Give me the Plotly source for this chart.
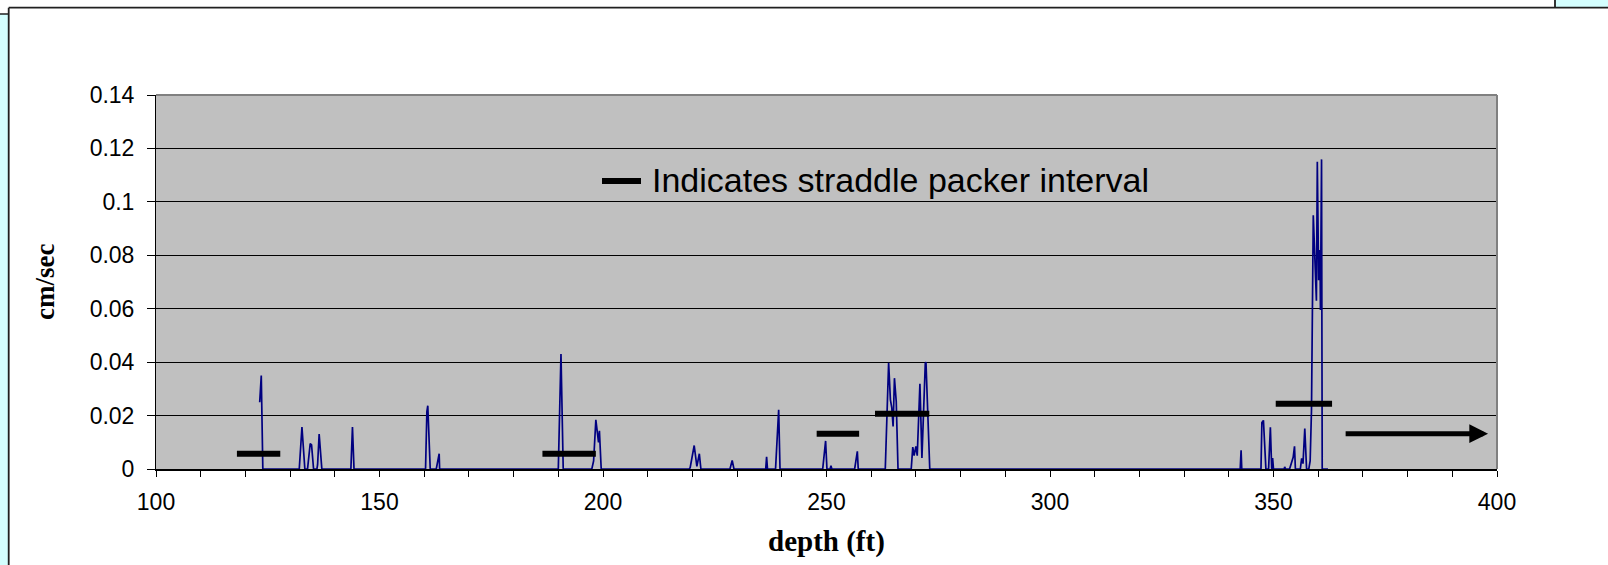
import plotly.graph_objects as go

# ---------------- data ----------------
depth_ft = [
    123.2, 123.55, 123.9,
    132.05, 132.65, 133.3, 133.9, 134.5, 134.8, 135.25, 136.0, 136.15, 136.5, 137.1,
    143.6, 143.95, 144.3,
    160.3, 160.6, 160.8, 161.35, 162.7, 163.35, 163.45,
    190.0, 190.6, 191.1,
    197.5, 197.9, 198.4, 199.0, 199.2, 199.6,
    219.3, 219.5, 220.4, 221.0, 221.55, 221.9,
    228.4, 228.9, 229.3,
    236.4, 236.6, 236.8,
    238.6, 239.3, 239.6,
    249.15, 249.8, 250.1, 250.8, 251.0, 251.2,
    256.3, 256.9, 257.1,
    263.15, 263.9, 264.3, 264.6, 264.9, 265.2, 265.6, 266.0,
    268.95, 269.3, 269.6, 270.0, 270.3, 270.9, 271.35, 272.1, 272.25, 273.1,
    342.55, 342.75, 342.9,
    347.2, 347.4, 347.75, 348.3, 348.9, 349.3, 349.6, 349.8, 350.0,
    352.4, 352.5, 352.7,
    353.6, 354.4, 354.7, 354.9,
    356.0, 356.3, 356.6, 357.0, 357.4,
    357.9, 358.2, 358.5, 358.9, 359.6, 359.8, 360.1, 360.4, 360.5, 360.75, 360.9,
    362.2,
]
velocity_cm_s = [
    0.025, 0.035, 0.0,
    0.0, 0.0157, 0.0, 0.0, 0.0095, 0.009, 0.0, 0.0, 0.0016, 0.0131, 0.0,
    0.0, 0.0157, 0.0,
    0.0, 0.0215, 0.0237, 0.0, 0.0, 0.0057, 0.0,
    0.0, 0.043, 0.0,
    0.0, 0.003, 0.0184, 0.0100, 0.0143, 0.0,
    0.0, 0.0005, 0.0088, 0.001, 0.0057, 0.0,
    0.0, 0.0032, 0.0,
    0.0, 0.0046, 0.0,
    0.0, 0.0222, 0.0,
    0.0, 0.0105, 0.0, 0.0, 0.0012, 0.0,
    0.0, 0.0066, 0.0,
    0.0, 0.0398, 0.0259, 0.023, 0.0159, 0.034, 0.0253, 0.0,
    0.0, 0.0082, 0.005, 0.0085, 0.005, 0.0319, 0.0041, 0.0396, 0.040, 0.0,
    0.0, 0.0070, 0.0,
    0.0, 0.0174, 0.0182, 0.0, 0.0, 0.0156, 0.0, 0.0041, 0.0,
    0.0, 0.0008, 0.0,
    0.0, 0.0044, 0.0085, 0.0,
    0.0, 0.004, 0.002, 0.0151, 0.0,
    0.0, 0.003, 0.022, 0.095, 0.063, 0.115, 0.0707, 0.082, 0.0595, 0.1159, 0.0,
    0.0,
]

# straddle packer intervals
packer_top_ft = [118.1, 186.45, 247.8, 260.85, 350.5]
packer_bottom_ft = [127.8, 198.4, 257.3, 273.0, 363.1]
packer_level = [0.0057, 0.0057, 0.0132, 0.0207, 0.0244]

# arrow (continues beyond)
arrow_start_ft = 365.8
arrow_end_ft = 398.0
arrow_level = 0.0132

legend_text = "Indicates straddle packer interval"
x_title = "depth (ft)"
y_title = "cm/sec"

x_tick_vals = [100, 150, 200, 250, 300, 350, 400]
x_tick_text = ["100", "150", "200", "250", "300", "350", "400"]
y_tick_vals = [0, 0.02, 0.04, 0.06, 0.08, 0.10, 0.12, 0.14]
y_tick_text = ["0", "0.02", "0.04", "0.06", "0.08", "0.1", "0.12", "0.14"]

# ---------------- layout geometry ----------------
W, H = 1608, 565
ML, MR, MT, MB = 156, 111, 95, 96
PW, PH = W - ML - MR, H - MT - MB


def px(xp):
    return (xp - ML) / PW


def py(yp):
    return (H - MB - yp) / PH


fig = go.Figure()

fig.add_trace(go.Scatter(
    x=depth_ft, y=velocity_cm_s, mode="lines",
    line=dict(color="#000080", width=1.7),
    showlegend=False, hoverinfo="skip",
))

# packer interval bars
bx, by = [], []
for a, b, lv in zip(packer_top_ft, packer_bottom_ft, packer_level):
    bx += [a, b, None]
    by += [lv, lv, None]
fig.add_trace(go.Scatter(
    x=bx, y=by, mode="lines", line=dict(color="black", width=6),
    showlegend=False, hoverinfo="skip",
))

shapes = []
# plot-area border top & right (gray)
shapes.append(dict(type="line", xref="paper", yref="paper", x0=0, x1=1, y0=1, y1=1,
                   line=dict(color="#808080", width=2)))
shapes.append(dict(type="line", xref="paper", yref="paper", x0=1, x1=1, y0=0, y1=1,
                   line=dict(color="#808080", width=2)))
# legend marker
shapes.append(dict(type="line", xref="paper", yref="paper", x0=px(602), x1=px(641),
                   y0=py(181), y1=py(181), line=dict(color="black", width=6)))
# outer frame decorations
shapes.append(dict(type="rect", xref="paper", yref="paper", x0=px(-2), x1=px(8.5),
                   y0=py(14), y1=py(H + 2), fillcolor="#D4FFFF", line=dict(width=0), layer="below"))
shapes.append(dict(type="rect", xref="paper", yref="paper", x0=px(1555), x1=px(W + 2),
                   y0=py(-2), y1=py(7.7), fillcolor="#D4FFFF", line=dict(width=0), layer="below"))
shapes.append(dict(type="line", xref="paper", yref="paper", x0=px(-2), x1=px(8.5),
                   y0=py(14), y1=py(14), line=dict(color="#202020", width=1.5)))
shapes.append(dict(type="line", xref="paper", yref="paper", x0=px(8.7), x1=px(8.7),
                   y0=py(7.7), y1=py(H + 2), line=dict(color="#202020", width=1.8)))
shapes.append(dict(type="line", xref="paper", yref="paper", x0=px(8.7), x1=px(W + 2),
                   y0=py(7.7), y1=py(7.7), line=dict(color="#202020", width=1.8)))
shapes.append(dict(type="line", xref="paper", yref="paper", x0=px(1555), x1=px(1555),
                   y0=py(-2), y1=py(7.7), line=dict(color="#202020", width=1.8)))

annotations = [
    dict(x=arrow_end_ft, y=arrow_level, ax=arrow_start_ft, ay=arrow_level,
         xref="x", yref="y", axref="x", ayref="y", text="", showarrow=True,
         arrowhead=2, arrowsize=0.75, arrowwidth=5, arrowcolor="black", standoff=0),
    dict(x=px(650), y=py(180), xref="paper", yref="paper", text=legend_text,
         showarrow=False, xanchor="left", yanchor="middle",
         font=dict(family="Liberation Sans, Arial", size=34, color="black")),
    dict(x=0.5, y=py(541), xref="paper", yref="paper", text="<b>" + x_title + "</b>",
         showarrow=False, xanchor="center", yanchor="middle",
         font=dict(family="Liberation Serif, Times New Roman", size=29, color="black")),
    dict(x=px(45), y=0.5, xref="paper", yref="paper", text="<b>" + y_title + "</b>",
         showarrow=False, xanchor="center", yanchor="middle", textangle=-90,
         font=dict(family="Liberation Serif, Times New Roman", size=27, color="black")),
]

fig.update_layout(
    width=W, height=H,
    margin=dict(l=ML, r=MR, t=MT, b=MB, pad=0),
    paper_bgcolor="white", plot_bgcolor="#C0C0C0",
    shapes=shapes, annotations=annotations,
    showlegend=False,
)
fig.update_xaxes(
    range=[100, 400], tickvals=x_tick_vals, ticktext=x_tick_text,
    ticks="outside", ticklen=6, tickcolor="black", tickwidth=1,
    minor=dict(dtick=10, tick0=100, ticks="outside", ticklen=6, tickcolor="black", showgrid=False),
    showgrid=False, zeroline=False, showline=True, linecolor="black", linewidth=1.5,
    ticklabelstandoff=6,
    tickfont=dict(family="Liberation Sans, Arial", size=23, color="black"),
)
fig.update_yaxes(
    range=[0, 0.14], tickvals=y_tick_vals, ticktext=y_tick_text,
    ticks="outside", ticklen=8, tickcolor="black", tickwidth=1,
    showgrid=True, gridcolor="black", gridwidth=1,
    zeroline=False, showline=True, linecolor="black", linewidth=1,
    ticklabelstandoff=8,
    tickfont=dict(family="Liberation Sans, Arial", size=23, color="black"),
)

fig.write_html("out.html")
